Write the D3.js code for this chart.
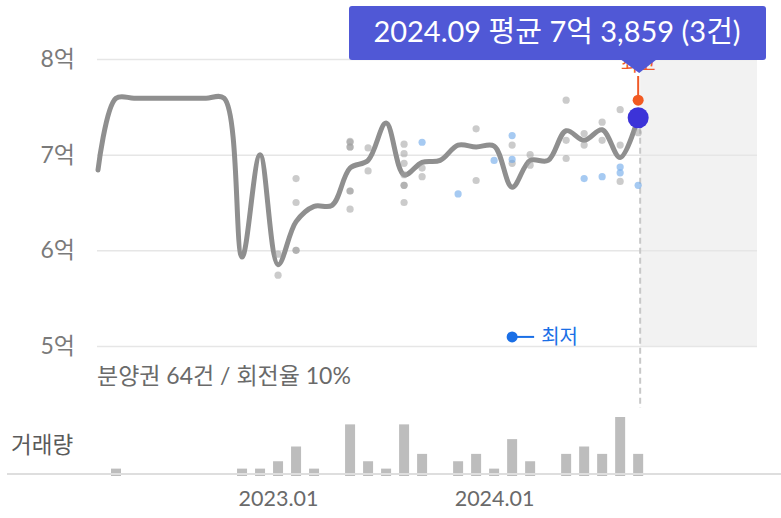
<!DOCTYPE html>
<html lang="ko">
<head>
<meta charset="utf-8">
<title>분양권 시세</title>
<script src="https://d3js.org/d3.v7.min.js"></script>
<style>
  body { margin: 0; background: #fff; }
  svg text { font-family: Lato, "Noto Sans CJK KR", sans-serif; }
  .grid line { stroke: #e6e6e6; stroke-width: 1.5px; }
  .grid path { display: none; }
  .grid text { font-size: 23px; fill: #7a7a7a; }
  .xaxis path, .xaxis line { display: none; }
  .xaxis text { font-size: 21.5px; fill: #6a6a6a; }
  .price { fill: none; stroke: #8f8f8f; stroke-width: 5px; stroke-linejoin: round; stroke-linecap: round; }
</style>
</head>
<body>
<script>
const months = ["2022.03","2022.04","2022.05","2022.06","2022.07","2022.08","2022.09","2022.10",
  "2022.11","2022.12","2023.01","2023.02","2023.03","2023.04","2023.05","2023.06","2023.07",
  "2023.08","2023.09","2023.10","2023.11","2023.12","2024.01","2024.02","2024.03","2024.04",
  "2024.05","2024.06","2024.07","2024.08","2024.09"];

// monthly average price (억)
const avgPrice = [6.84, 7.59, 7.59, 7.59, 7.59, 7.59, 7.59, 7.59,
  5.93, 7.00, 5.85, 6.30, 6.46, 6.47, 6.86, 6.94, 7.33,
  6.79, 6.92, 6.94, 7.10, 7.08, 7.09, 6.66, 6.94, 6.94,
  7.25, 7.15, 7.26, 6.97, 7.3859];

// trade count per month
const volume = [0, 1, 0, 0, 0, 0, 0, 0,
  1, 1, 2, 4, 1, 0, 7, 2, 1,
  7, 3, 0, 2, 3, 1, 5, 2, 0,
  3, 4, 3, 8, 3];

const grayDots = [
  ["2023.01", 5.96], ["2023.01", 5.74],
  ["2023.02", 6.75], ["2023.02", 6.50], ["2023.02", 6.00], ["2023.02", 6.00],
  ["2023.05", 7.14], ["2023.05", 7.13], ["2023.05", 7.08], ["2023.05", 7.08],
  ["2023.05", 6.62], ["2023.05", 6.62], ["2023.05", 6.43],
  ["2023.06", 7.07], ["2023.06", 6.83],
  ["2023.08", 7.11], ["2023.08", 7.01], ["2023.08", 6.91], ["2023.08", 6.79],
  ["2023.08", 6.68], ["2023.08", 6.68], ["2023.08", 6.50],
  ["2023.09", 6.86], ["2023.09", 6.77],
  ["2023.12", 7.27], ["2023.12", 6.73],
  ["2024.02", 7.10], ["2024.02", 6.91],
  ["2024.03", 7.00], ["2024.03", 6.89],
  ["2024.05", 7.57], ["2024.05", 7.15], ["2024.05", 6.96],
  ["2024.06", 7.22], ["2024.06", 7.10],
  ["2024.07", 7.34], ["2024.07", 7.15],
  ["2024.08", 7.47], ["2024.08", 7.10], ["2024.08", 6.72],
  ["2024.09", 7.23]
];
const blueDots = [
  ["2023.09", 7.13], ["2023.11", 6.59], ["2024.01", 6.94],
  ["2024.02", 7.20], ["2024.02", 6.95], ["2024.06", 6.75], ["2024.07", 6.77],
  ["2024.08", 6.87], ["2024.08", 6.81], ["2024.09", 6.68]
];

const yTicks = [5, 6, 7, 8];
const xTickLabels = ["2023.01", "2024.01"];
const highPoint = ["2024.09", 7.57];
const lowPoint = ["2024.02", 5.095];
const tooltipText = "2024.09 평균 7억 3,859 (3건)";
const summaryText = "분양권 64건 / 회전율 10%";

const W = 781, H = 518;
const svg = d3.select("body").append("svg").attr("width", W).attr("height", H);

// plot area runs about 6.6 months past the last data point
const x = d3.scaleLinear().domain([0, months.length - 1 + 6.6]).range([98, 757]);
const y = d3.scaleLinear().domain([5, 8]).range([346, 59]);
const yVol = d3.scaleLinear().domain([0, 8]).range([476, 417]);
const xm = m => x(months.indexOf(m));

const last = months.length - 1;

// future shading
svg.append("rect")
  .attr("x", x(last) + 2).attr("y", y(8))
  .attr("width", x.range()[1] - x(last) - 2).attr("height", y(5) - y(8))
  .attr("fill", "#f2f2f2");

// grid + y labels
svg.append("g").attr("class", "grid")
  .attr("transform", "translate(" + (x.range()[0] - 1) + ",0)")
  .call(d3.axisLeft(y).tickValues(yTicks).tickFormat(d => d + "억")
    .tickSize(-(x.range()[1] - x.range()[0] + 1)).tickPadding(22));

// dashed marker line
svg.append("line")
  .attr("x1", x(last) + 2).attr("x2", x(last) + 2)
  .attr("y1", y(avgPrice[last])).attr("y2", 408)
  .attr("stroke", "#c8c8c8").attr("stroke-width", 2).attr("stroke-dasharray", "6,4");

// price line
const line = d3.line()
  .curve(d3.curveCatmullRom.alpha(0.5))
  .x((d, i) => x(i))
  .y(d => y(d));
svg.append("path").datum(avgPrice).attr("class", "price").attr("d", line);

// transactions
svg.append("g").selectAll("circle").data(grayDots).join("circle")
  .attr("cx", d => xm(d[0])).attr("cy", d => y(d[1])).attr("r", 3.6)
  .attr("fill", "#a0a0a0").attr("fill-opacity", 0.55);
svg.append("g").selectAll("circle").data(blueDots).join("circle")
  .attr("cx", d => xm(d[0])).attr("cy", d => y(d[1])).attr("r", 3.6)
  .attr("fill", "#6aa6ea").attr("fill-opacity", 0.6);

// highest marker
const hx = xm(highPoint[0]), hy = y(highPoint[1]);
svg.append("text").attr("x", hx).attr("y", 71).attr("text-anchor", "middle")
  .attr("font-size", 19).attr("fill", "#f05a28").text("최고");
svg.append("line").attr("x1", hx).attr("x2", hx).attr("y1", 76).attr("y2", hy)
  .attr("stroke", "#f05a28").attr("stroke-width", 2);
svg.append("circle").attr("cx", hx).attr("cy", hy).attr("r", 5.5).attr("fill", "#f25a22");

// current point
svg.append("circle").attr("cx", x(last)).attr("cy", y(avgPrice[last])).attr("r", 10.5)
  .attr("fill", "#3c33d8");

// tooltip
const tip = svg.append("g");
tip.append("rect").attr("x", 349).attr("y", 6).attr("width", 417).attr("height", 54)
  .attr("rx", 3).attr("fill", "#5058d6");
tip.append("path")
  .attr("d", `M${x(last) - 18},59 L${x(last) + 19},59 L${x(last) + 1},73 Z`)
  .attr("fill", "#5058d6");
tip.append("text").attr("x", 557).attr("y", 42).attr("text-anchor", "middle")
  .attr("font-size", 29).attr("fill", "#fff").text(tooltipText);

// lowest marker
const lx = xm(lowPoint[0]), ly = y(lowPoint[1]);
svg.append("line").attr("x1", lx).attr("x2", lx + 22).attr("y1", ly).attr("y2", ly)
  .attr("stroke", "#1a6fe6").attr("stroke-width", 2);
svg.append("circle").attr("cx", lx).attr("cy", ly).attr("r", 5.5).attr("fill", "#1a6fe6");
svg.append("text").attr("x", lx + 29).attr("y", ly + 7).attr("font-size", 20)
  .attr("fill", "#1a6fe6").text("최저");

// summary
svg.append("text").attr("x", 97).attr("y", 384).attr("font-size", 23)
  .attr("fill", "#6a6a6a").text(summaryText);

// volume bars
svg.append("text").attr("x", 11).attr("y", 453).attr("font-size", 22.5)
  .attr("fill", "#5a5a5a").text("거래량");
svg.append("g").selectAll("rect").data(volume).join("rect")
  .attr("x", (d, i) => x(i) - 5).attr("width", 10)
  .attr("y", d => yVol(d)).attr("height", d => yVol(0) - yVol(d))
  .attr("fill", "#bdbdbd");
svg.append("line").attr("x1", 7).attr("x2", W).attr("y1", 474).attr("y2", 474)
  .attr("stroke", "#dedede").attr("stroke-width", 2);

// x labels
svg.append("g").attr("class", "xaxis")
  .attr("transform", "translate(0,491)")
  .call(d3.axisBottom(x)
    .tickValues(xTickLabels.map(m => months.indexOf(m)))
    .tickFormat(i => months[i]).tickSize(0).tickPadding(0));
</script>
</body>
</html>
